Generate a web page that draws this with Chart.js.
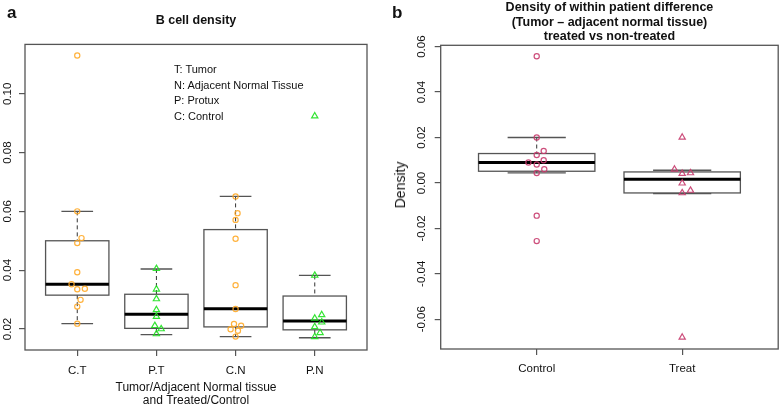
<!DOCTYPE html>
<html><head><meta charset="utf-8">
<script src="https://cdn.jsdelivr.net/npm/chart.js@4.4.1/dist/chart.umd.min.js"></script>
<style>
html,body{margin:0;padding:0;background:#fff;overflow:hidden;width:783px;height:408px;position:relative;}
#wa{position:absolute;left:0;top:0;width:385px;height:408px;}
#wb{position:absolute;left:385px;top:0;width:398px;height:408px;}
.t{position:absolute;font-family:'Liberation Sans',Arial,sans-serif;color:#111;white-space:nowrap;}
.lab{font-weight:bold;font-size:17px;line-height:17px;}
.leg{font-size:11px;line-height:15.6px;left:174px;top:62px;}
.rot{font-size:14px;line-height:16px;transform:translate(-50%,-50%) rotate(-90deg);}
</style></head><body>
<div id="wa"><canvas id="ca" width="385" height="408"></canvas></div>
<div id="wb"><canvas id="cb" width="398" height="408"></canvas></div>
<div class="t lab" style="left:7px;top:3.6px;">a</div>
<div class="t lab" style="left:392px;top:3.6px;">b</div>
<div class="t leg">T: Tumor<br>N: Adjacent Normal Tissue<br>P: Protux<br>C: Control</div>
<div class="t rot" style="left:400px;top:184.7px;">Density</div>
<script>
// ---------- Panel a data ----------
const catsA = ['C.T','P.T','C.N','P.N'];
const yTicksA = [0.02,0.04,0.06,0.08,0.10];
const yTickLabelsA = ['0.02','0.04','0.06','0.08','0.10'];
const whiskLoA = [0.0218,0.0181,0.0174,0.0170];
const q1A      = [0.0315,0.0202,0.0207,0.0197];
const medA     = [0.0352,0.0250,0.0269,0.0227];
const q3A      = [0.0500,0.0318,0.0538,0.0312];
const whiskHiA = [0.0600,0.0404,0.0651,0.0382];
const ptsCT = [0.1130,0.0600,0.0509,0.0492,0.0393,0.0352,0.0335,0.0337,0.0299,0.0276,0.0218];
const jitCT = [0,0,0.054,0,0,-0.072,0,0.096,0.042,0,0];
const ptsPT = [0.0405,0.0335,0.0302,0.0265,0.0242,0.0211,0.0200,0.0183];
const jitPT = [0,0,0,0,0,-0.02,0.06,0];
const ptsCN = [0.0651,0.0594,0.0571,0.0507,0.0349,0.0268,0.0217,0.0211,0.0199,0.0194,0.0174];
const jitCN = [0,0.025,0,0,0,0,-0.02,0.07,-0.063,0.03,0];
const ptsPN = [0.0924,0.0382,0.0248,0.0236,0.0223,0.0207,0.0187,0.0173];
const jitPN = [0,0,0.088,0,0.088,0,0.067,0];

// ---------- Panel b data ----------
const catsB = ['Control','Treat'];
const yTicksB = [-0.06,-0.04,-0.02,0.00,0.02,0.04,0.06];
const yTickLabelsB = ['-0.06','-0.04','-0.02','0.00','0.02','0.04','0.06'];
const whiskLoB = [0.0044,-0.0047];
const q1B      = [0.00515,-0.0044];
const medB     = [0.0090,0.0016];
const q3B      = [0.01295,0.00485];
const whiskHiB = [0.0200,0.0056];
const ptsCtrl = [0.0558,0.0200,0.0141,0.0123,0.0100,0.0090,0.0081,0.0060,0.0044,-0.0144,-0.0256];
const jitCtrl = [0,0,0.048,0,0.048,-0.057,0,0.052,0,0,0];
const ptsTreat = [0.0201,0.0060,0.0041,0.0044,-0.0001,-0.0033,-0.0044,-0.0680];
const jitTreat = [0,-0.053,0,0.057,0,0.057,0,0];

Chart.defaults.font.family = "'Liberation Sans', Arial, sans-serif";
Chart.defaults.color = '#111';

function toXY(pts, jit, pos){ return pts.map((v,i)=>({x: pos + jit[i], y: v})); }

function boxPlugin(lo,q1,med,q3,hi){
  return {
    id:'boxes',
    beforeDatasetsDraw(chart){
      const {ctx, scales:{x,y}} = chart;
      const L=(a,b,c,d)=>{ctx.beginPath();ctx.moveTo(a,b);ctx.lineTo(c,d);ctx.stroke();};
      ctx.save();
      for(let i=0;i<med.length;i++){
        const c=i+1;
        const xl=x.getPixelForValue(c-0.4), xr=x.getPixelForValue(c+0.4);
        const cl=x.getPixelForValue(c-0.2), cr=x.getPixelForValue(c+0.2);
        const xc=x.getPixelForValue(c);
        const ylo=y.getPixelForValue(lo[i]), yq1=y.getPixelForValue(q1[i]);
        const ymd=y.getPixelForValue(med[i]), yq3=y.getPixelForValue(q3[i]);
        const yhi=y.getPixelForValue(hi[i]);
        ctx.strokeStyle='#333'; ctx.lineWidth=1; ctx.setLineDash([4,3]);
        L(xc,yhi,xc,yq3); L(xc,yq1,xc,ylo);
        ctx.setLineDash([]);
        ctx.strokeStyle='#555'; ctx.lineWidth=1.3;
        L(cl,yhi,cr,yhi); L(cl,ylo,cr,ylo);
        ctx.strokeRect(xl,yq3,xr-xl,yq1-yq3);
        ctx.strokeStyle='#000'; ctx.lineWidth=3;
        L(xl,ymd,xr,ymd);
      }
      ctx.restore();
    }
  };
}
const framePlugin = {
  id:'frame',
  afterDraw(chart){
    const {ctx, chartArea:a} = chart;
    ctx.save(); ctx.strokeStyle='#555'; ctx.lineWidth=1.3;
    ctx.strokeRect(a.left,a.top,a.right-a.left,a.bottom-a.top);
    ctx.restore();
  }
};

function ds(data, color, style, r){
  return {type:'scatter', data, pointStyle:style, pointRadius:r, pointHoverRadius:r,
    borderColor:color, backgroundColor:'rgba(0,0,0,0)', pointBorderWidth:1.2, showLine:false};
}
const ORANGE='rgba(255,170,40,0.9)', GREEN='rgba(30,225,30,0.9)', PINK='rgba(200,60,110,0.9)';

function gridOpts(){ return {drawOnChartArea:false, color:'#555', tickLength:6, lineWidth:1.2}; }

new Chart(document.getElementById('ca'), {
  type:'scatter',
  data:{datasets:[
    ds(toXY(ptsCT,jitCT,1),ORANGE,'circle',2.6),
    ds(toXY(ptsPT,jitPT,2),GREEN,'triangle',3.6),
    ds(toXY(ptsCN,jitCN,3),ORANGE,'circle',2.6),
    ds(toXY(ptsPN,jitPN,4),GREEN,'triangle',3.6)
  ]},
  options:{
    responsive:false, animation:false, events:[],
    layout:{padding:{left:0,right:18,top:0,bottom:0}},
    plugins:{legend:{display:false}, tooltip:{enabled:false},
      title:{display:true, fullSize:false, text:'B cell density', color:'#111',
        font:{size:12.5, weight:'bold', lineHeight:1.2}, padding:{top:12.9,bottom:16.5}}},
    scales:{
      x:{type:'linear', min:0.34, max:4.66,
        afterBuildTicks:s=>{s.ticks=catsA.map((c,i)=>({value:i+1}));},
        afterFit:s=>{s.height=58;},
        ticks:{callback:(v,i)=>catsA[i], font:{size:11.5}, color:'#111', padding:8, autoSkip:false, maxRotation:0},
        grid:gridOpts(), border:{display:false},
        title:{display:true, text:['Tumor/Adjacent Normal tissue','and Treated/Control'], color:'#111',
          font:{size:12, lineHeight:1.15}, padding:0}},
      y:{min:0.01284, max:0.1168,
        afterBuildTicks:s=>{s.ticks=yTicksA.map(v=>({value:v}));},
        afterFit:s=>{s.width=25;},
        ticks:{callback:(v,i)=>yTickLabelsA[i], font:{size:11.5}, color:'#111', minRotation:90, maxRotation:90,
          crossAlign:'center', padding:0, autoSkip:false},
        grid:gridOpts(), border:{display:false}}
    }
  },
  plugins:[boxPlugin(whiskLoA,q1A,medA,q3A,whiskHiA), framePlugin]
});

new Chart(document.getElementById('cb'), {
  type:'scatter',
  data:{datasets:[
    ds(toXY(ptsCtrl,jitCtrl,1),PINK,'circle',2.6),
    ds(toXY(ptsTreat,jitTreat,2),PINK,'triangle',3.6)
  ]},
  options:{
    responsive:false, animation:false, events:[],
    layout:{padding:{left:0,right:1.3,top:0,bottom:0}},
    plugins:{legend:{display:false}, tooltip:{enabled:false},
      title:{display:true, fullSize:false,
        text:['Density of within patient difference','(Tumor \u2013 adjacent normal tissue)','treated vs non-treated'],
        color:'#111', font:{size:12.5, weight:'bold', lineHeight:1.176}, padding:{top:0,bottom:1.2}}},
    scales:{
      x:{type:'linear', min:0.34, max:2.66,
        afterBuildTicks:s=>{s.ticks=catsB.map((c,i)=>({value:i+1}));},
        afterFit:s=>{s.height=59;},
        ticks:{callback:(v,i)=>catsB[i], font:{size:11.5}, color:'#111', padding:7, autoSkip:false, maxRotation:0},
        grid:gridOpts(), border:{display:false}},
      y:{min:-0.0731, max:0.0606,
        afterBuildTicks:s=>{s.ticks=yTicksB.map(v=>({value:v}));},
        afterFit:s=>{s.width=55.7;},
        ticks:{callback:(v,i)=>yTickLabelsB[i], font:{size:11.5}, color:'#111', minRotation:90, maxRotation:90,
          crossAlign:'center', padding:0, autoSkip:false},
        grid:gridOpts(), border:{display:false}}
    }
  },
  plugins:[boxPlugin(whiskLoB,q1B,medB,q3B,whiskHiB), framePlugin]
});
</script>
</body></html>
